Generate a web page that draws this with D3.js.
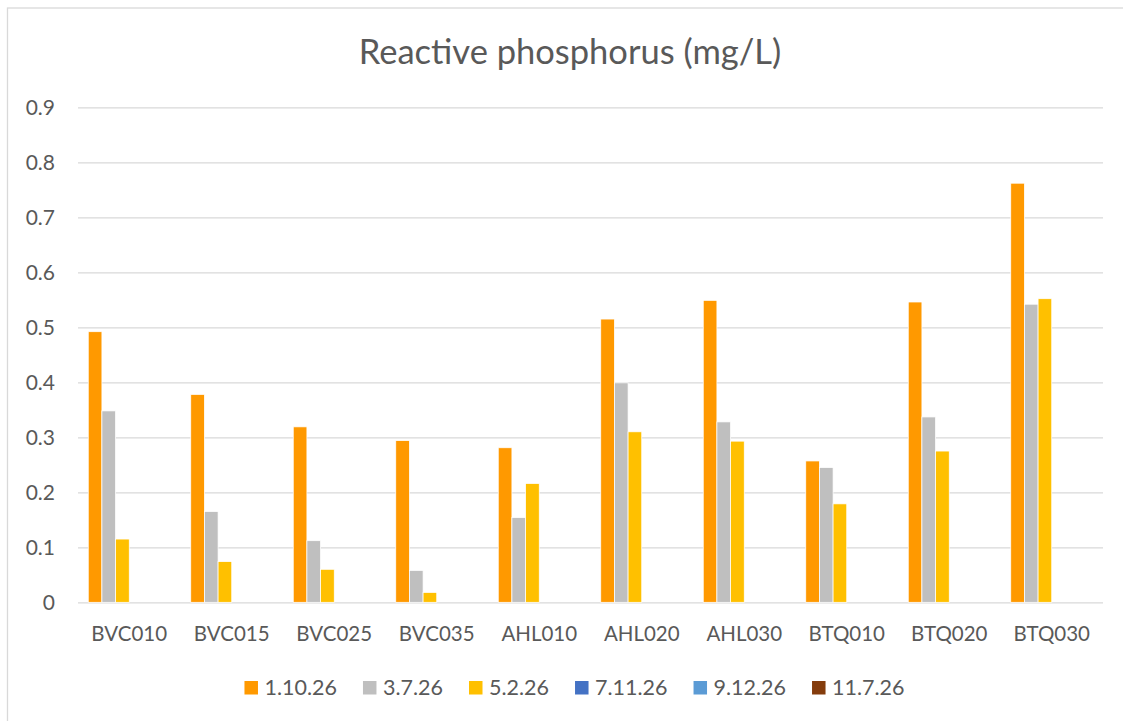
<!DOCTYPE html>
<html>
<head>
<meta charset="utf-8">
<script src="https://cdn.jsdelivr.net/npm/d3@7"></script>
<style>
  body { margin: 0; background: #fff; }
  svg text { font-family: Lato, "Open Sans", sans-serif; fill: #595959; }
</style>
</head>
<body>
<div id="chart"></div>
<script>
// sites along x axis
const categories = ['BVC010','BVC015','BVC025','BVC035','AHL010','AHL020','AHL030','BTQ010','BTQ020','BTQ030'];
const seriesNames = ['1.10.26','3.7.26','5.2.26','7.11.26','9.12.26','11.7.26'];
const seriesColors = ['#ff9900','#bfbfbf','#ffc000','#4472c4','#5b9bd5','#843c0c'];
// values (mg/L)
const s1 = [0.492,0.378,0.319,0.294,0.281,0.515,0.549,0.257,0.546,0.762];
const s2 = [0.348,0.165,0.112,0.058,0.154,0.399,0.328,0.245,0.337,0.542];
const s3 = [0.115,0.074,0.060,0.018,0.216,0.310,0.293,0.179,0.275,0.552];
const s4 = [null,null,null,null,null,null,null,null,null,null];
const s5 = [null,null,null,null,null,null,null,null,null,null];
const s6 = [null,null,null,null,null,null,null,null,null,null];
const yTicks = [0,0.1,0.2,0.3,0.4,0.5,0.6,0.7,0.8,0.9];

const allSeries = [s1,s2,s3,s4,s5,s6];

let width = 1123, height = 721;
let margin = { left: 78, top: 107.3, right: 20, bottom: 118.7 };
let plotW = width - margin.left - margin.right,
	plotH = height - margin.top - margin.bottom;

let svg = d3.select('#chart')
			.append('svg')
			.attr('width', width)
			.attr('height', height);

//outer border of chart area (runs off the right and bottom edge)
svg.append('rect')
	.attr('x', 7.5).attr('y', 8)
	.attr('width', 1130).attr('height', 730)
	.attr('fill', '#fff')
	.attr('stroke', '#d9d9d9')
	.attr('stroke-width', 1.3);

//title
svg.append('text')
	.attr('x', 570)
	.attr('y', 64)
	.attr('text-anchor', 'middle')
	.style('font-size', '34.5px')
	.text('Reactive phosphorus (mg/L)');

let g = svg.append('g')
		   .attr('transform', 'translate('+margin.left+','+margin.top+')');

let xScale = d3.scaleBand()
			   .domain(categories)
			   .range([0, plotW]);

// gap width 150% -> inner band for the 6 bars
let barW = xScale.bandwidth() / (seriesNames.length + 1.5);
let xInner = d3.scaleBand()
			   .domain(d3.range(seriesNames.length))
			   .range([0.75*barW, 0.75*barW + seriesNames.length*barW]);

let yScale = d3.scaleLinear()
			   .domain([0, 0.9])
			   .range([plotH, 0]);

//gridlines
let yAxis = d3.axisLeft(yScale)
			  .tickValues(yTicks)
			  .tickSize(-plotW)
			  .tickPadding(23)
			  .tickFormat(d => d === 0 ? '0' : d3.format('.1f')(d));

let yAxisGroup = g.append('g')
				  .attr('class', 'yaxis')
				  .call(yAxis);
yAxisGroup.select('.domain').remove();
yAxisGroup.selectAll('line').attr('stroke', '#d9d9d9').attr('stroke-width', 1.3);
yAxisGroup.selectAll('text').style('font-size', '21px').attr('fill', '#595959');

let xAxis = d3.axisBottom(xScale).tickSize(0).tickPadding(24);
let xAxisGroup = g.append('g')
				  .attr('transform', 'translate(0,'+plotH+')')
				  .call(xAxis);
xAxisGroup.select('.domain').remove();
xAxisGroup.selectAll('text').style('font-size', '20.5px').attr('fill', '#595959');

//bars
allSeries.forEach((vals, si) => {
	g.append('g')
	 .selectAll('rect')
	 .data(vals.map((v, i) => ({ cat: categories[i], v: v })).filter(d => d.v != null))
	 .enter()
	 .append('rect')
	 .attr('x', d => xScale(d.cat) + xInner(si))
	 .attr('width', xInner.bandwidth())
	 .attr('y', d => yScale(d.v))
	 .attr('height', d => plotH - yScale(d.v))
	 .attr('fill', seriesColors[si])
	 .attr('stroke', '#fff')
	 .attr('stroke-width', 0.75);
});

//legend, centred under the plot
let legend = svg.append('g');
let lx = 0;
seriesNames.forEach((name, i) => {
	let item = legend.append('g').attr('transform', 'translate('+lx+',0)');
	item.append('rect')
		.attr('x', 0).attr('y', -6.5)
		.attr('width', 13.5).attr('height', 13.5)
		.attr('fill', seriesColors[i]);
	let t = item.append('text')
		.attr('x', 20)
		.attr('y', 7.5)
		.style('font-size', '21.5px')
		.text(name);
	let w = 20 + t.node().getComputedTextLength();
	lx += w + (i < seriesNames.length - 1 ? 26 : 0);
});
legend.attr('transform', 'translate('+(574.5 - lx/2)+',687.5)');
</script>
</body>
</html>
